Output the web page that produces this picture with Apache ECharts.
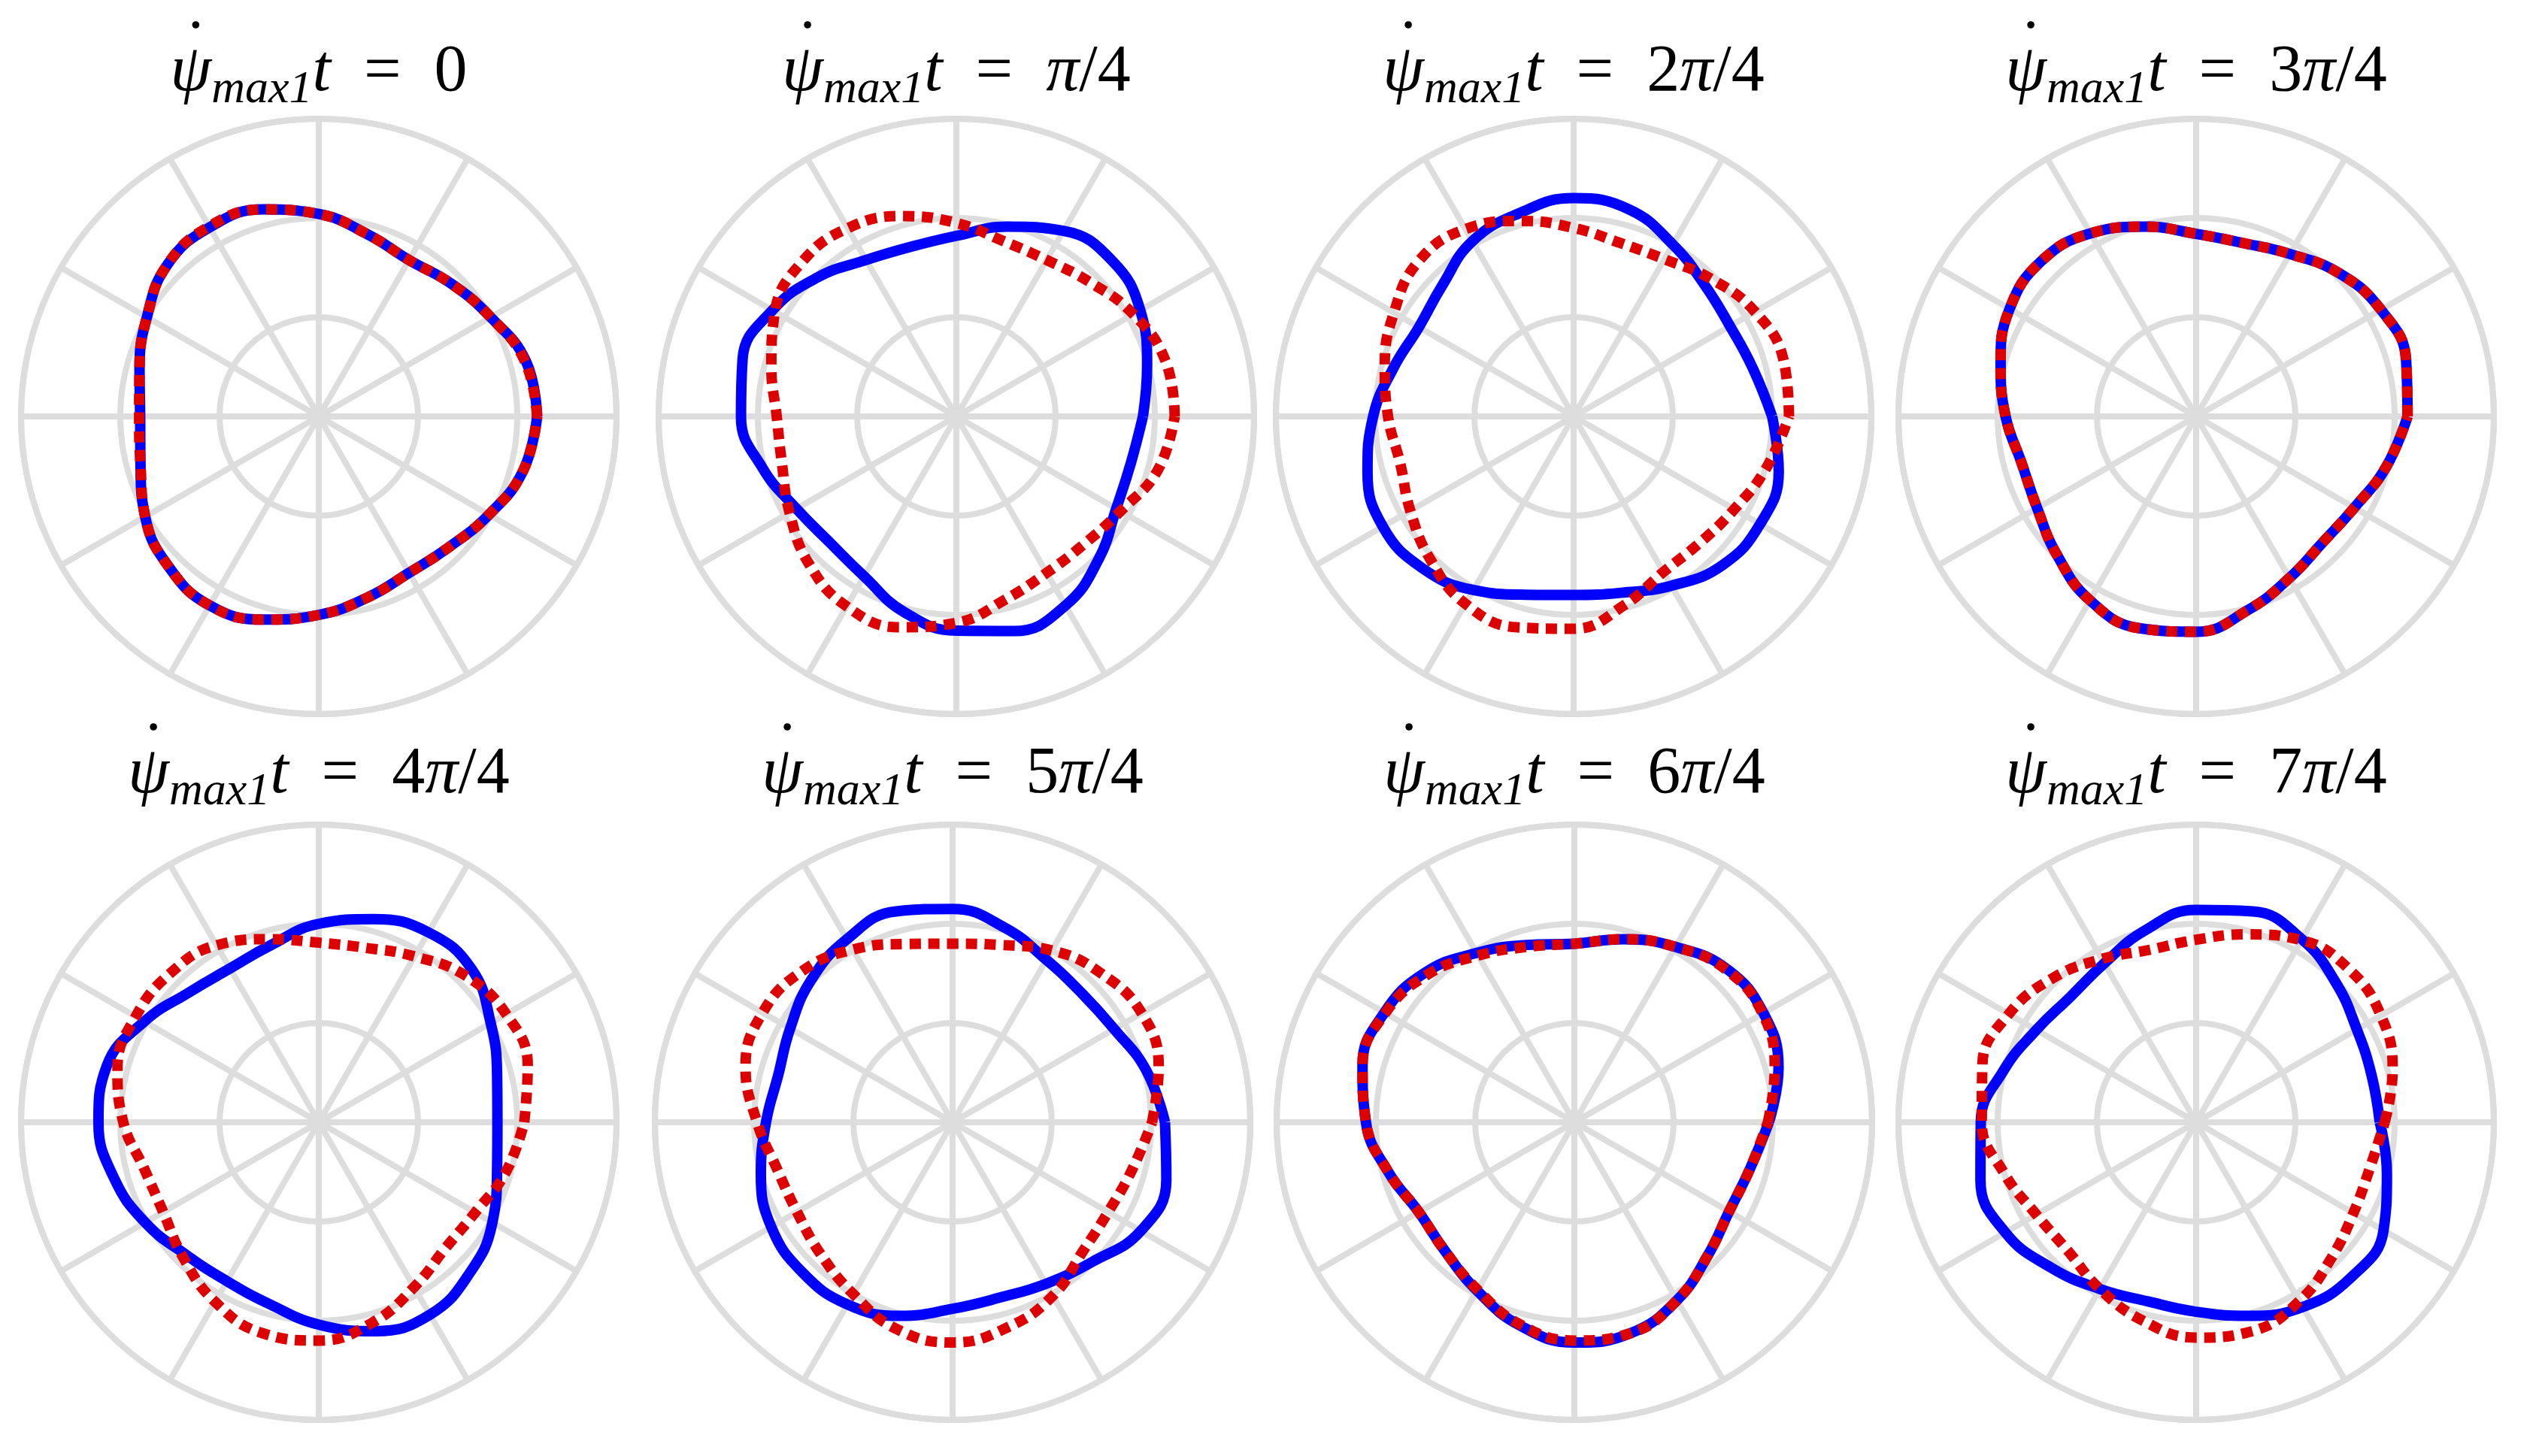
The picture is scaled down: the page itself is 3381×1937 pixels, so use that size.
<!DOCTYPE html>
<html><head><meta charset="utf-8">
<script src="https://cdn.jsdelivr.net/npm/echarts@6/dist/echarts.min.js"></script>
<style>html,body{margin:0;padding:0;background:#fff}#c{width:3381px;height:1937px}</style>
</head><body><div id="c"></div>
<script>
// ---- data (radius, angle in degrees, counter-clockwise from +x) ----
const angles = [0,15,30,45,60,75,90,105,120,135,150,165,180,195,210,225,240,255,270,285,300,315,330,345];
const titles = ['0','π/4','2π/4','3π/4','4π/4','5π/4','6π/4','7π/4'];

const blue1 = [1.10,1.08,1.00,0.945,0.91,0.95,1.02,1.08,1.10,1.08,1.00,0.935,0.90,0.93,1.01,1.07,1.10,1.06,1.00,0.945,0.91,0.93,0.99,1.065];
const red1  = [1.10,1.075,1.00,0.945,0.91,0.95,1.02,1.08,1.105,1.08,1.00,0.935,0.905,0.93,1.01,1.07,1.10,1.06,1.00,0.945,0.91,0.93,0.99,1.065];
const blue2 = [0.94,0.995,1.07,1.11,1.08,0.99,0.91,0.885,0.91,0.99,1.07,1.115,1.085,1.01,0.93,0.90,0.93,1.02,1.08,1.12,1.10,1.015,0.93,0.91];
const red2  = [1.10,1.09,1.03,0.955,0.91,0.915,0.975,1.045,1.095,1.10,1.055,0.965,0.905,0.91,0.97,1.05,1.105,1.10,1.04,0.955,0.91,0.91,0.955,1.05];
const blue3 = [1.00,0.935,0.91,0.935,1.00,1.08,1.10,1.06,1.02,0.935,0.90,0.94,1.01,1.075,1.11,1.08,1.01,0.93,0.90,0.92,0.985,1.06,1.085,1.07];
const red3  = [1.085,1.095,1.055,0.98,0.915,0.905,0.95,1.02,1.09,1.105,1.045,0.985,0.935,0.905,0.95,1.02,1.09,1.10,1.07,0.985,0.905,0.90,0.935,1.005];
const blue4 = [1.065,1.095,1.075,1.02,0.945,0.905,0.92,0.99,1.065,1.105,1.085,1.02,0.96,0.91,0.925,0.99,1.07,1.105,1.085,1.01,0.94,0.90,0.92,0.99];
const red4  = [1.065,1.095,1.075,1.02,0.945,0.905,0.92,0.99,1.065,1.105,1.085,1.02,0.96,0.91,0.925,0.99,1.07,1.105,1.085,1.01,0.94,0.90,0.92,0.99];
const blue5 = [0.90,0.93,1.00,1.09,1.105,1.06,1.00,0.925,0.895,0.925,1.015,1.105,1.11,1.07,1.01,0.945,0.925,0.95,1.02,1.09,1.12,1.075,1.01,0.93];
const red5  = [1.035,1.09,1.09,1.045,0.965,0.91,0.905,0.955,1.03,1.06,1.065,1.05,0.985,0.91,0.905,0.965,1.045,1.10,1.10,1.045,0.96,0.90,0.91,0.975];
const blue6 = [1.07,1.01,0.94,0.92,0.945,1.015,1.075,1.10,1.065,1.01,0.945,0.91,0.94,1.00,1.055,1.07,1.06,1.01,0.94,0.915,0.94,0.995,1.095,1.115];
const red6  = [1.005,1.075,1.10,1.06,1.00,0.925,0.90,0.93,1.005,1.075,1.105,1.08,0.985,0.915,0.905,0.94,1.00,1.08,1.11,1.07,1.01,0.925,0.905,0.935];
const blue7 = [0.98,1.065,1.10,1.09,1.02,0.955,0.90,0.925,0.985,1.065,1.105,1.105,1.05,0.97,0.905,0.92,0.98,1.06,1.11,1.10,1.035,0.95,0.90,0.915];
const red7  = [0.975,1.045,1.095,1.085,1.02,0.955,0.90,0.915,0.97,1.05,1.10,1.105,1.05,0.97,0.905,0.92,0.975,1.055,1.10,1.10,1.035,0.95,0.90,0.915];
const blue8 = [0.925,0.915,0.935,0.995,1.065,1.10,1.07,1.00,0.925,0.895,0.93,1.005,1.085,1.125,1.11,1.035,0.97,0.935,0.955,1.01,1.075,1.105,1.09,0.995];
const red8  = [0.95,1.025,1.075,1.09,1.06,0.98,0.92,0.90,0.95,1.025,1.09,1.115,1.08,1.00,0.93,0.915,0.97,1.035,1.085,1.09,1.04,0.965,0.915,0.905];

const blueSets = [blue1,blue2,blue3,blue4,blue5,blue6,blue7,blue8];
const redSets  = [red1,red2,red3,red4,red5,red6,red7,red8];

// ---- layout ----
const centers = [[424,554],[1272,554],[2093,554],[2921,554],[424,1493],[1267,1493],[2094,1493],[2921,1493]];
const titleY = [97,97,97,97,1031,1031,1031,1031];
const R = 396;
const GRID = '#dddddd';
const FONT = '"Liberation Serif","DejaVu Serif",serif';
const FS = 88, FSS = 62;

function closed(vals){
  const d = angles.map((a,i)=>[vals[i], a]);
  d.push([vals[0], 360]);
  return d;
}
function titleTokens(t){
  const tk = [['ψ','p'],['max1','s'],['t','i'],['  =  ','u']];
  for (const ch of t) tk.push([ch, ch === 'π' ? 'i' : 'u']);
  return tk;
}
const rich = {
  p: {fontFamily: FONT, fontStyle: 'italic', fontSize: FS, lineHeight: 108, fill: '#000'},
  s: {fontFamily: FONT, fontStyle: 'italic', fontSize: FSS, lineHeight: 62, verticalAlign: 'bottom', fill: '#000'},
  i: {fontFamily: FONT, fontStyle: 'italic', fontSize: FS, lineHeight: 108, fill: '#000'},
  u: {fontFamily: FONT, fontSize: FS, lineHeight: 108, fill: '#000'}
};
const mctx = document.createElement('canvas').getContext('2d');
function tokWidth(txt, st){
  const r = rich[st];
  mctx.font = (r.fontStyle === 'italic' ? 'italic ' : '') + r.fontSize + 'px ' + FONT;
  return mctx.measureText(txt).width;
}

const titleGraphics = [];
titles.forEach((t,i) => {
  const tk = titleTokens(t);
  const total = tk.reduce((s,[txt,st]) => s + tokWidth(txt, st), 0);
  const left = centers[i][0] - total / 2;
  const wPsi = tokWidth('ψ', 'p');
  titleGraphics.push({
    type: 'text', x: centers[i][0], y: titleY[i],
    style: {text: tk.map(([txt,st]) => '{' + st + '|' + txt + '}').join(''), rich: rich,
            align: 'center', verticalAlign: 'middle', font: FS + 'px ' + FONT, fill: '#000'}
  });
  titleGraphics.push({
    type: 'circle', shape: {cx: left + wPsi * 0.62, cy: titleY[i] - 64, r: 4.8},
    style: {fill: '#000'}
  });
});

const axisLineStyle = {color: GRID, width: 8};
const option = {
  animation: false,
  backgroundColor: '#ffffff',
  polar: centers.map(c => ({center: c, radius: R})),
  angleAxis: centers.map((c,i) => ({
    polarIndex: i, type: 'value', min: 0, max: 360, interval: 30,
    startAngle: 0, clockwise: false,
    axisLine: {show: true, lineStyle: axisLineStyle},
    axisTick: {show: false}, axisLabel: {show: false},
    splitLine: {show: true, lineStyle: axisLineStyle},
    splitArea: {show: false}
  })),
  radiusAxis: centers.map((c,i) => ({
    polarIndex: i, type: 'value', min: 0, max: 1.5, interval: 0.5,
    axisLine: {show: false}, axisTick: {show: false}, axisLabel: {show: false},
    splitLine: {show: true, lineStyle: axisLineStyle},
    splitArea: {show: false}
  })),
  series: [].concat(
    blueSets.map((v,i) => ({
      type: 'line', coordinateSystem: 'polar', polarIndex: i,
      data: closed(v), smooth: 0.45, showSymbol: false, symbol: 'none',
      lineStyle: {color: '#0000ff', width: 14, join: 'round'}, z: 3
    })),
    redSets.map((v,i) => ({
      type: 'line', coordinateSystem: 'polar', polarIndex: i,
      data: closed(v), smooth: 0.45, showSymbol: false, symbol: 'none',
      lineStyle: {color: '#dd0000', width: 14, type: [15, 10], cap: 'butt'}, z: 4
    }))
  ),
  graphic: titleGraphics
};
const chart = echarts.init(document.getElementById('c'), null, {renderer: 'canvas'});
chart.setOption(option);
</script>
</body></html>
